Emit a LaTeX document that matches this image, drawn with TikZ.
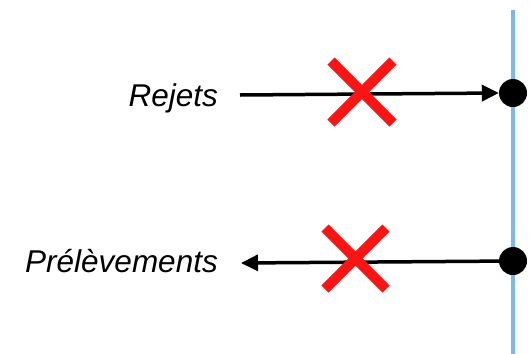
\documentclass[tikz,border=0pt]{standalone}
\usepackage{fontspec}
\setmainfont{Liberation Sans}
\usetikzlibrary{arrows.meta}
\definecolor{river}{RGB}{122,184,240}
\definecolor{ban}{RGB}{250,20,20}
\begin{document}
\begin{tikzpicture}[x=1pt,y=-1pt,
  flow/.style={line width=3.5pt,-{Triangle[length=17pt,width=16pt]}},
  dot/.style={circle,fill=black,inner sep=0pt,minimum size=28pt},
  lbl/.style={font=\fontsize{31.5}{36}\selectfont\itshape,anchor=base east,inner sep=0pt},
  nocross/.style={draw=ban,line width=10pt}]
\useasboundingbox (0,0) rectangle (531,354);
% watercourse
\draw[river,line width=4pt] (513,10) -- (513,354);
% outlet and intake points
\node[dot] (out) at (513,93) {};
\node[dot] (in) at (513,261) {};
% labels
\node[lbl] (rej) at (218,106) {Rejets};
\node[lbl] (pre) at (218,272) {Prélèvements};
\coordinate (rs) at (240,95);
\coordinate (pe) at (241,263);
\draw[flow] (rs) -- (out.west);
\draw[flow] (in.center) -- (pe);
% prohibition crosses
\draw[nocross] (331,61) -- (393,123) (331,123) -- (393,61);
\draw[nocross] (325,228) -- (386,289) (325,289) -- (386,228);
\end{tikzpicture}
\end{document}
